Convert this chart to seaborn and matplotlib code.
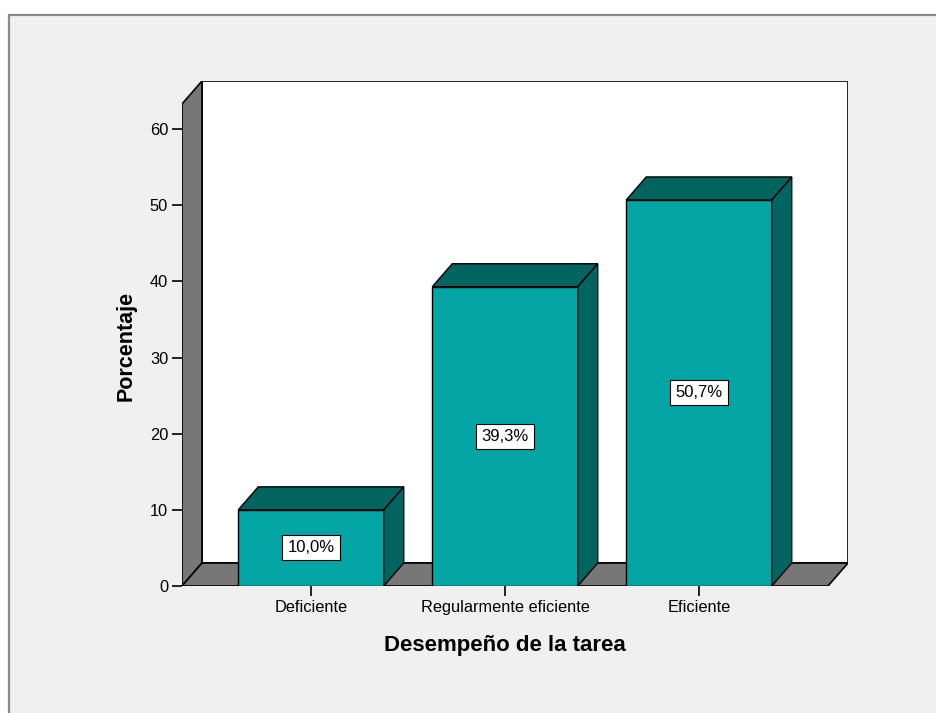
"""SPSS-style 3D bar chart: Desempeño de la tarea (porcentaje)."""
import matplotlib
matplotlib.use('Agg')
import matplotlib.pyplot as plt
from matplotlib.patches import Polygon, Rectangle
import seaborn as sns

categories = ['Deficiente', 'Regularmente eficiente', 'Eficiente']
percents = [10.0, 39.3, 50.7]
y_ticks = [0, 10, 20, 30, 40, 50, 60]

FRONT = '#02A5A4'
DARK = '#01645F'
WALL = '#777777'
BG = '#F0F0F0'

# plot box in data units (front plane) and depth offset
X0, X1, TOP = -0.665, 2.665, 63.3
DX, DY = 0.103, 3.02

sns.set_style('white')
plt.rcParams['font.family'] = ['Liberation Sans', 'DejaVu Sans']
plt.rcParams['text.color'] = 'black'
plt.rcParams['axes.labelcolor'] = 'black'
plt.rcParams['xtick.color'] = 'black'
plt.rcParams['ytick.color'] = 'black'

fig = plt.figure(figsize=(9.37, 7.13), dpi=100)
fig.patch.set_facecolor('white')
fig.patches.append(Rectangle((9 / 937, -0.02), 1.0, 1 - 15 / 713 + 0.02,
                             transform=fig.transFigure, facecolor=BG,
                             edgecolor='#8A8A8A', linewidth=1.6, zorder=-10))

ax = fig.add_axes([182 / 937, 127 / 713, 666 / 937, 505 / 713])
ax.set_facecolor('none')

sns.barplot(x=categories, y=percents, color=FRONT, saturation=1, width=0.75,
            edgecolor='black', linewidth=1, ax=ax, zorder=3)

# walls and floor
ax.add_patch(Rectangle((X0 + DX, DY), X1 - X0, TOP, facecolor='white',
                       edgecolor='black', linewidth=1.2, zorder=0.5))
ax.add_patch(Polygon([(X0, 0), (X0, TOP), (X0 + DX, TOP + DY), (X0 + DX, DY)],
                     facecolor=WALL, edgecolor='black', linewidth=1.2, zorder=1))
ax.add_patch(Polygon([(X0, 0), (X1, 0), (X1 + DX, DY), (X0 + DX, DY)],
                     facecolor=WALL, edgecolor='black', linewidth=1.2, zorder=1))

# bar tops, sides and value boxes
for bar, v in zip(ax.patches[:len(percents)], percents):
    l = bar.get_x()
    r = l + bar.get_width()
    h = bar.get_height()
    ax.add_patch(Polygon([(l, h), (r, h), (r + DX, h + DY), (l + DX, h + DY)],
                         facecolor=DARK, edgecolor='black', linewidth=1, zorder=3))
    ax.add_patch(Polygon([(r, 0), (r, h), (r + DX, h + DY), (r + DX, DY)],
                         facecolor=DARK, edgecolor='black', linewidth=1, zorder=3))
    ax.text(l + bar.get_width() / 2, h / 2, f'{v:.1f}%'.replace('.', ','),
            ha='center', va='center', fontsize=12, zorder=5,
            bbox=dict(boxstyle='square,pad=0.3', facecolor='white',
                      edgecolor='black', linewidth=0.8))

ax.set_xlim(X0, X1 + DX)
ax.set_ylim(0, TOP + DY)
ax.set_yticks(y_ticks)
for s in ax.spines.values():
    s.set_visible(False)
ax.tick_params(axis='both', direction='out', length=7, width=1.2,
               labelsize=11.8, pad=3, left=True, bottom=True)

ax.set_xlabel('Desempeño de la tarea', fontsize=16, fontweight='bold')
ax.set_ylabel('Porcentaje', fontsize=15.5, fontweight='bold')
ax.xaxis.set_label_coords((505 - 182) / 666, -(645 - 586) / 505)
ax.xaxis.label.set_va('center')
ax.yaxis.set_label_coords((126 - 182) / 666, (586 - 346) / 505)
ax.yaxis.label.set_va('center')

fig.savefig('out.png', dpi=100)
